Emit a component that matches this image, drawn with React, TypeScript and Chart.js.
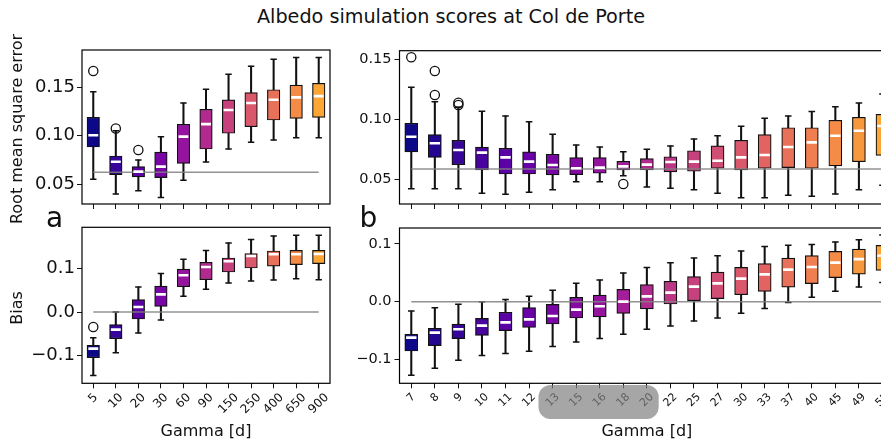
import React, { useEffect, useRef } from 'react';
import { Chart, registerables } from 'chart.js';

Chart.register(...registerables);
Chart.defaults.font.family = '"DejaVu Sans", sans-serif';

// ---------- Panel a (Gamma 5 ... 900) ----------
const gammaA = ['5', '10', '20', '30', '60', '90', '150', '250', '400', '650', '900'];

const rmseA_low = [0.0549, 0.0397, 0.0431, 0.0359, 0.0538, 0.0728, 0.0862, 0.0932, 0.0955, 0.098, 0.098];
const rmseA_q1 = [0.0883, 0.0597, 0.0573, 0.0566, 0.0714, 0.0862, 0.1025, 0.1093, 0.1162, 0.118, 0.119];
const rmseA_med = [0.1004, 0.0731, 0.0628, 0.068, 0.099, 0.112, 0.1266, 0.1338, 0.1372, 0.1397, 0.141];
const rmseA_q3 = [0.119, 0.079, 0.068, 0.0831, 0.1118, 0.1273, 0.137, 0.1445, 0.1476, 0.1524, 0.1542];
const rmseA_high = [0.1455, 0.105, 0.0749, 0.099, 0.1338, 0.148, 0.1635, 0.172, 0.179, 0.181, 0.181];
const rmseA_outliers = [
  { x: '5', y: 0.167 },
  { x: '10', y: 0.1075 },
  { x: '20', y: 0.0852 },
];
const rmseA_ref = 0.0621;

const biasA_low = [-0.1449, -0.093, -0.048, -0.0183, 0.036, 0.052, 0.0664, 0.071, 0.0732, 0.0764, 0.074];
const biasA_q1 = [-0.1044, -0.0609, -0.016, 0.013, 0.058, 0.074, 0.0915, 0.1007, 0.105, 0.1085, 0.1107];
const biasA_med = [-0.0838, -0.0403, 0.0114, 0.0405, 0.084, 0.103, 0.116, 0.128, 0.132, 0.132, 0.1327];
const biasA_q3 = [-0.0762, -0.0288, 0.0284, 0.0595, 0.0984, 0.1137, 0.1236, 0.1336, 0.1396, 0.141, 0.141];
const biasA_high = [-0.0586, 0.0, 0.057, 0.0879, 0.1206, 0.141, 0.158, 0.1657, 0.174, 0.1755, 0.1755];
const biasA_outliers = [{ x: '5', y: -0.0343 }];
const biasA_ref = 0;

// ---------- Panel b (Gamma 7 ... 55) ----------
const gammaB = ['7', '8', '9', '10', '11', '12', '13', '15', '16', '18', '20', '22', '25', '27', '30', '33', '37', '40', '45', '49', '55'];

const rmseB_low = [0.0422, 0.0422, 0.0422, 0.0383, 0.0375, 0.0392, 0.0413, 0.048, 0.048, 0.053, 0.0436, 0.0425, 0.0413, 0.0383, 0.0347, 0.0347, 0.0367, 0.0358, 0.0378, 0.0413, 0.045];
const rmseB_q1 = [0.0728, 0.0683, 0.0622, 0.0578, 0.0544, 0.0544, 0.0536, 0.0539, 0.055, 0.0578, 0.0578, 0.0561, 0.0567, 0.0592, 0.0578, 0.0592, 0.0597, 0.0592, 0.0611, 0.0647, 0.07];
const rmseB_med = [0.0855, 0.08, 0.0744, 0.0722, 0.0683, 0.0647, 0.0619, 0.0592, 0.0597, 0.0608, 0.0622, 0.0644, 0.0647, 0.0655, 0.0683, 0.0703, 0.0769, 0.0808, 0.0863, 0.0905, 0.0944];
const rmseB_q3 = [0.0967, 0.0872, 0.0825, 0.0769, 0.0758, 0.0728, 0.0708, 0.068, 0.068, 0.065, 0.0672, 0.0688, 0.0738, 0.0778, 0.0825, 0.0872, 0.093, 0.093, 0.0992, 0.1017, 0.1042];
const rmseB_high = [0.1267, 0.1147, 0.11, 0.1067, 0.1028, 0.098, 0.0875, 0.0786, 0.0769, 0.073, 0.075, 0.0778, 0.0836, 0.0863, 0.0942, 0.1008, 0.1027, 0.1065, 0.1105, 0.1135, 0.121];
const rmseB_outliers = [
  { x: '7', y: 0.1517 },
  { x: '8', y: 0.1403 },
  { x: '8', y: 0.1203 },
  { x: '9', y: 0.1138 },
  { x: '9', y: 0.112 },
  { x: '18', y: 0.0461 },
];
const rmseB_ref = 0.0586;

const biasB_low = [-0.1277, -0.1156, -0.1017, -0.0936, -0.0901, -0.0861, -0.078, -0.07, -0.0641, -0.0567, -0.048, -0.0422, -0.0336, -0.0284, -0.0203, -0.0121, -0.0017, 0.0075, 0.0179, 0.0253, 0.0334];
const biasB_q1 = [-0.0856, -0.0763, -0.0641, -0.0584, -0.0503, -0.0445, -0.0388, -0.0284, -0.0266, -0.0203, -0.0127, -0.0041, 0.0017, 0.0052, 0.0121, 0.0179, 0.0253, 0.0312, 0.0416, 0.0478, 0.0542];
const biasB_med = [-0.0624, -0.0537, -0.048, -0.0416, -0.0359, -0.0307, -0.0249, -0.0139, -0.0081, 0.0, 0.0092, 0.0156, 0.026, 0.0317, 0.0399, 0.0473, 0.0555, 0.06, 0.0676, 0.0738, 0.0797];
const biasB_q3 = [-0.0567, -0.0463, -0.0388, -0.029, -0.0185, -0.0104, -0.0047, 0.0075, 0.0115, 0.0213, 0.0294, 0.0352, 0.0433, 0.0513, 0.0594, 0.0659, 0.0756, 0.0797, 0.0872, 0.0912, 0.0976];
const biasB_high = [-0.0163, -0.0104, -0.0047, 0.0, 0.0035, 0.0092, 0.0196, 0.0317, 0.0374, 0.0496, 0.0594, 0.0676, 0.0756, 0.0797, 0.0877, 0.0958, 0.0976, 0.0993, 0.1033, 0.1075, 0.1154];
const biasB_outliers: { x: string; y: number }[] = [];
const biasB_ref = 0;

// tick values
const rmseTicks = [0.05, 0.1, 0.15];
const biasTicks = [-0.1, 0, 0.1];
const highlightB = ['13', '20'];

// ---------- colours: matplotlib plasma ----------
const PLASMA: number[][] = [
  [13, 8, 135], [65, 4, 157], [106, 0, 168], [143, 13, 164], [177, 42, 144],
  [204, 71, 120], [225, 100, 98], [242, 132, 75], [252, 166, 54], [252, 206, 37], [240, 249, 33],
];
function plasma(t: number): string {
  const x = Math.max(0, Math.min(1, t)) * 10;
  const i = Math.min(9, Math.floor(x));
  const f = x - i;
  const a = PLASMA[i];
  const b = PLASMA[i + 1];
  const c = a.map((v, k) => Math.round(v + (b[k] - v) * f));
  return `rgb(${c[0]},${c[1]},${c[2]})`;
}
function palette(n: number): string[] {
  return Array.from({ length: n }, (_, i) => plasma((0.8 * i) / (n - 1)));
}
function fmtTick(v: number, d: number): string {
  const s = Math.abs(v).toFixed(d);
  return (v < -1e-9 ? '\u2212' : '') + s;
}

type PanelProps = {
  left: number; top: number; width: number; height: number;
  ca: { l: number; t: number; r: number; b: number };
  labels: string[];
  low: number[]; q1: number[]; med: number[]; q3: number[]; high: number[];
  outliers: { x: string; y: number }[];
  refValue: number;
  yMin: number; yMax: number; yTicks: number[]; yDecimals: number; yFont: number; yPad: number;
  xTitle?: string;
  xLabelFont?: number; showXLabels: boolean;
  boxWidth: number; capR: number;
  highlight?: string[];
};

function Panel(p: PanelProps) {
  const ref = useRef<HTMLCanvasElement>(null);
  useEffect(() => {
    const canvas = ref.current;
    if (!canvas) return;
    const colors = palette(p.labels.length);
    const bw = p.boxWidth;

    const framePlugin = {
      id: 'frame',
      afterDraw(chart: any) {
        const { left, top, right, bottom } = chart.chartArea;
        const ctx = chart.ctx;
        ctx.save();
        ctx.strokeStyle = '#000';
        ctx.lineWidth = 1.2;
        ctx.strokeRect(left, top, right - left, bottom - top);
        ctx.restore();
      },
    };

    const labelPlugin = {
      id: 'rotLabels',
      afterDraw(chart: any) {
        const ctx = chart.ctx;
        const xs = chart.scales.x;
        const bottom = chart.chartArea.bottom;
        if (p.showXLabels) {
          const fs = p.xLabelFont || 12;
          ctx.save();
          ctx.font = `${fs}px "DejaVu Sans"`;
          ctx.fillStyle = '#111';
          ctx.textAlign = 'center';
          ctx.textBaseline = 'middle';
          const top = bottom + 5 + 3;
          p.labels.forEach((lab, i) => {
            const x = xs.getPixelForTick(i);
            const w = ctx.measureText(lab).width;
            const side = (w + fs) * Math.SQRT1_2;
            ctx.save();
            ctx.translate(x, top + side / 2);
            ctx.rotate(-Math.PI / 4);
            ctx.fillText(lab, 0, 0);
            ctx.restore();
          });
          ctx.restore();
        }
        if (p.highlight) {
          const i0 = p.labels.indexOf(p.highlight[0]);
          const i1 = p.labels.indexOf(p.highlight[1]);
          const unit = xs.getPixelForTick(1) - xs.getPixelForTick(0);
          const x0 = xs.getPixelForTick(i0) - 0.6 * unit;
          const x1 = xs.getPixelForTick(i1) + 0.5 * unit;
          const y0 = bottom + 1.7;
          const y1 = bottom + 35.7;
          const r = 12;
          ctx.save();
          ctx.fillStyle = 'rgba(128,128,128,0.7)';
          ctx.beginPath();
          ctx.moveTo(x0 + r, y0);
          ctx.lineTo(x1 - r, y0);
          ctx.arcTo(x1, y0, x1, y0 + r, r);
          ctx.lineTo(x1, y1 - r);
          ctx.arcTo(x1, y1, x1 - r, y1, r);
          ctx.lineTo(x0 + r, y1);
          ctx.arcTo(x0, y1, x0, y1 - r, r);
          ctx.lineTo(x0, y0 + r);
          ctx.arcTo(x0, y0, x0 + r, y0, r);
          ctx.closePath();
          ctx.fill();
          ctx.restore();
        }
      },
    };

    const chart = new Chart(canvas, {
      type: 'bar',
      data: {
        labels: p.labels,
        datasets: [
          {
            type: 'bar',
            data: p.labels.map((_, i) => [p.low[i], p.q1[i]]),
            backgroundColor: '#111',
            borderWidth: 0,
            barThickness: 1.4,
            grouped: false,
            order: 7,
          } as any,
          {
            type: 'bar',
            data: p.labels.map((_, i) => [p.q3[i], p.high[i]]),
            backgroundColor: '#111',
            borderWidth: 0,
            barThickness: 1.4,
            grouped: false,
            order: 7,
          } as any,
          {
            type: 'line',
            data: p.low,
            showLine: false,
            pointStyle: 'line',
            pointRadius: p.capR,
            pointHoverRadius: p.capR,
            pointBorderWidth: 1.5,
            pointBorderColor: '#111',
            order: 6,
          } as any,
          {
            type: 'line',
            data: p.high,
            showLine: false,
            pointStyle: 'line',
            pointRadius: p.capR,
            pointHoverRadius: p.capR,
            pointBorderWidth: 1.5,
            pointBorderColor: '#111',
            order: 6,
          } as any,
          {
            type: 'bar',
            data: p.labels.map((_, i) => [p.q1[i], p.q3[i]]),
            backgroundColor: colors,
            borderColor: '#111',
            borderWidth: 1.2,
            borderSkipped: false,
            barThickness: bw,
            grouped: false,
            order: 5,
          } as any,
          {
            type: 'line',
            data: p.labels.map(() => p.refValue),
            borderColor: 'rgba(128,128,128,0.85)',
            borderWidth: 1.5,
            pointRadius: 0,
            pointHoverRadius: 0,
            order: 4,
          } as any,
          {
            type: 'line',
            data: p.med,
            showLine: false,
            pointStyle: 'line',
            pointRadius: bw / 2 - 1.3,
            pointHoverRadius: bw / 2 - 1.3,
            pointBorderWidth: 2.6,
            pointBorderColor: '#fff',
            order: 3,
          } as any,
          {
            type: 'line',
            data: p.outliers,
            showLine: false,
            pointStyle: 'circle',
            pointRadius: 4.6,
            pointHoverRadius: 4.6,
            pointBorderWidth: 1.3,
            pointBorderColor: '#111',
            pointBackgroundColor: 'rgba(0,0,0,0)',
            order: 2,
          } as any,
        ],
      },
      options: {
        animation: false,
        responsive: false,
        devicePixelRatio: 1,
        events: [],
        layout: { padding: { left: 0, top: p.ca.t, right: p.width - p.ca.r, bottom: 0 } },
        plugins: { legend: { display: false }, tooltip: { enabled: false } },
        scales: {
          x: {
            type: 'category',
            offset: true,
            grid: {
              display: true,
              drawOnChartArea: false,
              drawTicks: true,
              tickLength: 5,
              tickWidth: 1,
              tickColor: '#111',
              offset: false,
            },
            border: { display: false },
            ticks: { display: false },
            title: p.xTitle
              ? {
                  display: true,
                  text: p.xTitle,
                  color: '#111',
                  font: { size: 16, lineHeight: 1.2 },
                  padding: { top: 0, bottom: 3 },
                }
              : { display: false },
            afterFit: (s: any) => {
              s.height = p.height - p.ca.b;
              s.paddingLeft = 0;
              s.paddingRight = 0;
            },
          },
          y: {
            type: 'linear',
            min: p.yMin,
            max: p.yMax,
            grid: {
              display: true,
              drawOnChartArea: false,
              drawTicks: true,
              tickLength: 5,
              tickWidth: 1,
              tickColor: '#111',
            },
            border: { display: false },
            ticks: {
              color: '#111',
              padding: p.yPad,
              font: { size: p.yFont, lineHeight: 1 },
              callback: (v: any) => fmtTick(Number(v), p.yDecimals),
            },
            afterBuildTicks: (s: any) => {
              s.ticks = p.yTicks.map((v) => ({ value: v }));
            },
            title: { display: false },
            afterFit: (s: any) => {
              s.width = p.ca.l;
              s.paddingTop = 0;
              s.paddingBottom = 0;
            },
          },
        },
      } as any,
      plugins: [framePlugin, labelPlugin],
    });
    return () => chart.destroy();
  }, []);
  return (
    <canvas
      ref={ref}
      width={p.width}
      height={p.height}
      style={{ position: 'absolute', left: p.left, top: p.top, width: p.width, height: p.height }}
    />
  );
}

function YTitle(props: { text: string; cx: number; cy: number }) {
  return (
    <div
      style={{
        position: 'absolute',
        left: props.cx,
        top: props.cy,
        transform: 'translate(-50%, -50%) rotate(-90deg)',
        fontSize: 16,
        lineHeight: '16px',
        whiteSpace: 'nowrap',
        color: '#111',
      }}
    >
      {props.text}
    </div>
  );
}

export default function App() {
  return (
    <div
      style={{
        position: 'fixed',
        left: 0,
        top: 0,
        width: 881,
        height: 444,
        overflow: 'hidden',
        background: '#fff',
        fontFamily: '"DejaVu Sans", sans-serif',
      }}
    >
      <Panel
        left={0} top={30} width={340} height={182}
        ca={{ l: 82, t: 20, r: 330, b: 174 }}
        labels={gammaA}
        low={rmseA_low} q1={rmseA_q1} med={rmseA_med} q3={rmseA_q3} high={rmseA_high}
        outliers={rmseA_outliers} refValue={rmseA_ref}
        yMin={0.0293} yMax={0.1887} yTicks={rmseTicks} yDecimals={2} yFont={18} yPad={2}
        showXLabels={false}
        boxWidth={12.5} capR={3.2}
      />
      <Panel
        left={0} top={215} width={340} height={229}
        ca={{ l: 82, t: 12.3, r: 330, b: 168.3 }}
        labels={gammaA}
        low={biasA_low} q1={biasA_q1} med={biasA_med} q3={biasA_q3} high={biasA_high}
        outliers={biasA_outliers} refValue={biasA_ref}
        yMin={-0.163} yMax={0.1938} yTicks={biasTicks} yDecimals={1} yFont={18} yPad={2}
        xTitle="Gamma [d]"
        showXLabels={true} xLabelFont={12}
        boxWidth={12.5} capR={3.2}
      />
      <Panel
        left={340} top={30} width={570} height={182}
        ca={{ l: 59.5, t: 20.7, r: 554.25, b: 174 }}
        labels={gammaB}
        low={rmseB_low} q1={rmseB_q1} med={rmseB_med} q3={rmseB_q3} high={rmseB_high}
        outliers={rmseB_outliers} refValue={rmseB_ref}
        yMin={0.0294} yMax={0.1572} yTicks={rmseTicks} yDecimals={2} yFont={14.5} yPad={3}
        showXLabels={false}
        boxWidth={13} capR={3.3}
      />
      <Panel
        left={340} top={215} width={570} height={229}
        ca={{ l: 59.5, t: 13, r: 554.25, b: 168.3 }}
        labels={gammaB}
        low={biasB_low} q1={biasB_q1} med={biasB_med} q3={biasB_q3} high={biasB_high}
        outliers={biasB_outliers} refValue={biasB_ref}
        yMin={-0.1416} yMax={0.1277} yTicks={biasTicks} yDecimals={1} yFont={14.5} yPad={3}
        xTitle="Gamma [d]"
        showXLabels={true} xLabelFont={11}
        boxWidth={13} capR={3.3}
        highlight={highlightB}
      />
      <YTitle text="Root mean square error" cx={17} cy={129} />
      <YTitle text="Bias" cx={17} cy={308} />
      <div
        style={{
          position: 'absolute', left: 451, top: 6.5, transform: 'translateX(-50%)',
          fontSize: 19.2, lineHeight: '19.2px', whiteSpace: 'nowrap', color: '#111',
        }}
      >
        Albedo simulation scores at Col de Porte
      </div>
      <div style={{ position: 'absolute', left: 46, top: 204, fontSize: 28, lineHeight: '28px', color: '#111' }}>a</div>
      <div style={{ position: 'absolute', left: 359.5, top: 204, fontSize: 28, lineHeight: '28px', color: '#111' }}>b</div>
    </div>
  );
}
